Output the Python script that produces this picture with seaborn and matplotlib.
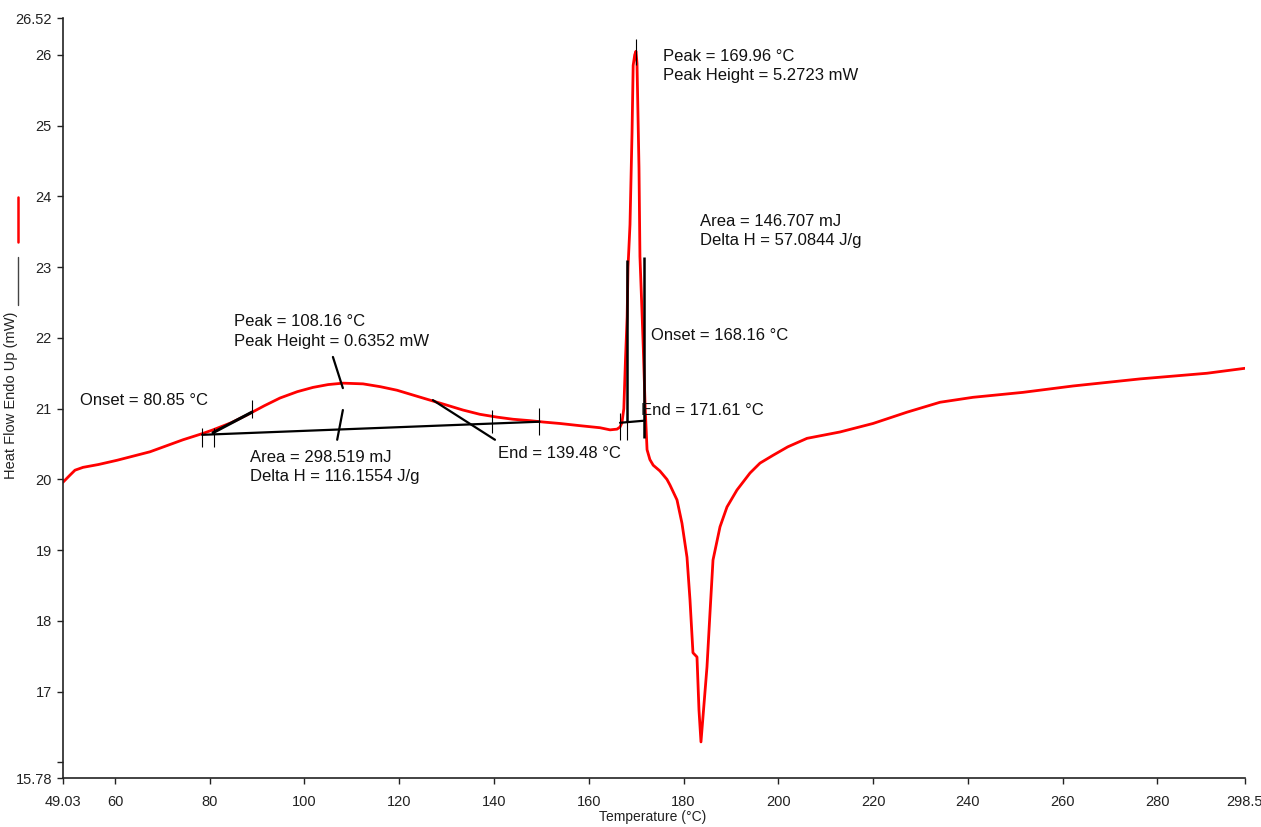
import numpy as np
import pandas as pd
import matplotlib
matplotlib.use("Agg")
import matplotlib.pyplot as plt
import seaborn as sns

# DSC heat flow curve
temp = [49.03, 50.5, 51.56, 53.25, 56.5, 60.43, 67.39, 74.36, 78.58, 80.69, 84.5, 87.86,
        91.5, 94.83, 98.5, 101.79, 105.0, 108.13, 112.35, 116.0, 119.52, 123.0, 126.49,
        130.0, 133.45, 137.0, 140.63, 144.0, 147.59, 150.5, 153.92, 158.0, 162.37, 164.5,
        165.96, 166.6, 167.0, 167.4, 167.75, 168.1, 168.28, 168.7, 169.13, 169.37, 169.7,
        169.96, 170.18, 170.6, 170.8, 171.3, 171.5, 171.9, 172.3, 172.9, 173.6, 175.0,
        176.5, 177.14, 178.62, 179.67, 180.73, 181.36, 181.99, 182.84, 183.26, 183.68,
        184.1, 184.95, 185.58, 186.22, 187.7, 189.17, 191.28, 194.03, 196.14, 198.88,
        202.0, 206.06, 213.02, 219.99, 227.17, 234.13, 241.1, 251.65, 262.2, 276.34,
        290.48, 298.5]
heat_flow = [19.96, 20.06, 20.13, 20.17, 20.21, 20.27, 20.39, 20.56, 20.65, 20.70, 20.80, 20.91,
             21.04, 21.15, 21.24, 21.30, 21.34, 21.36, 21.35, 21.31, 21.26, 21.19, 21.12,
             21.05, 20.98, 20.92, 20.88, 20.85, 20.83, 20.81, 20.79, 20.76, 20.73, 20.70,
             20.71, 20.74, 20.80, 21.0, 21.7, 22.3, 23.0, 23.6, 24.9, 25.85, 26.0,
             26.05, 25.88, 24.4, 23.15, 22.25, 21.87, 21.02, 20.42, 20.28, 20.2, 20.12,
             20.0, 19.92, 19.71, 19.38, 18.9, 18.3, 17.55, 17.49, 16.74, 16.29,
             16.64, 17.35, 18.11, 18.86, 19.33, 19.61, 19.85, 20.09, 20.23, 20.34,
             20.46, 20.58, 20.67, 20.79, 20.95, 21.09, 21.16, 21.23, 21.32, 21.42,
             21.50, 21.57]

# peak analysis marks (first peak)
p1_base_x = [78.4, 149.6]
p1_base_y = [20.63, 20.815]
p1_tick_x = [78.4, 80.85, 88.9, 139.48, 149.6]
p1_tick_lo = [20.46, 20.46, 20.87, 20.66, 20.63]
p1_tick_hi = [20.73, 20.73, 21.12, 20.98, 21.01]
p1_onset_x = [80.69, 88.9]
p1_onset_y = [20.66, 20.95]
p1_end_x = [127.1, 140.2]
p1_end_y = [21.12, 20.56]
p1_drop_x = [[106.0, 108.1], [108.1, 106.9]]
p1_drop_y = [[21.73, 21.29], [20.98, 20.56]]

# second peak
p2_base_x = [166.6, 171.8]
p2_base_y = [20.80, 20.83]
p2_tick_x = [166.6, 168.16]
p2_tick_lo = [20.56, 20.56]
p2_tick_hi = [20.94, 20.94]
p2_area_x = [168.16, 171.61]
p2_area_lo = [20.81, 20.58]
p2_area_hi = [23.1, 23.14]
p2_peak_x = 169.96
p2_peak_y = [25.85, 26.22]

xticks = [49.03, 60, 80, 100, 120, 140, 160, 180, 200, 220, 240, 260, 280, 298.5]
xticklabels = ["49.03", "60", "80", "100", "120", "140", "160", "180", "200", "220",
               "240", "260", "280", "298.5"]
yticks = [15.78, 16, 17, 18, 19, 20, 21, 22, 23, 24, 25, 26, 26.52]
yticklabels = ["15.78", "", "17", "18", "19", "20", "21", "22", "23", "24", "25", "26", "26.52"]

sns.set_style("white")
plt.rcParams['font.family'] = ['Liberation Sans', 'DejaVu Sans']

df = pd.DataFrame({'Temperature': temp, 'HeatFlow': heat_flow})

fig = plt.figure(figsize=(12.61, 8.27), dpi=100)
ax = fig.add_axes([0.04996, 0.05925, 0.93734, 0.91895])

sns.lineplot(data=df, x='Temperature', y='HeatFlow', sort=False, estimator=None,
             color='#ff0000', linewidth=2.0, ax=ax)

k = 'black'
# first peak
ax.plot(p1_base_x, p1_base_y, color=k, lw=1.6)
ax.vlines(p1_tick_x, p1_tick_lo, p1_tick_hi, color=k, lw=0.8)
ax.plot(p1_onset_x, p1_onset_y, color=k, lw=2.2)
ax.plot(p1_end_x, p1_end_y, color=k, lw=1.6)
for dx, dy in zip(p1_drop_x, p1_drop_y):
    ax.plot(dx, dy, color=k, lw=1.6)
# second peak
ax.plot(p2_base_x, p2_base_y, color=k, lw=1.6)
ax.vlines(p2_tick_x, p2_tick_lo, p2_tick_hi, color=k, lw=0.8)
ax.vlines(p2_area_x, p2_area_lo, p2_area_hi, color=k, lw=1.8)
ax.vlines(p2_peak_x, p2_peak_y[0], p2_peak_y[1], color=k, lw=0.8)

fs = 12
ls = 1.35
ax.text(175.67, 25.84, "Peak = 169.96 °C\nPeak Height = 5.2723 mW", fontsize=fs,
        va='center', ha='left', linespacing=ls, color='#111111')
ax.text(183.47, 23.51, "Area = 146.707 mJ\nDelta H = 57.0844 J/g", fontsize=fs,
        va='center', ha='left', linespacing=ls, color='#111111')
ax.text(173.13, 22.04, "Onset = 168.16 °C", fontsize=fs, va='center', ha='left', color='#111111')
ax.text(171.03, 20.98, "End = 171.61 °C", fontsize=fs, va='center', ha='left', color='#111111')
ax.text(85.12, 22.09, "Peak = 108.16 °C\nPeak Height = 0.6352 mW", fontsize=fs,
        va='center', ha='left', linespacing=ls, color='#111111')
ax.text(52.62, 21.12, "Onset = 80.85 °C", fontsize=fs, va='center', ha='left', color='#111111')
ax.text(88.5, 20.17, "Area = 298.519 mJ\nDelta H = 116.1554 J/g", fontsize=fs,
        va='center', ha='left', linespacing=ls, color='#111111')
ax.text(140.84, 20.37, "End = 139.48 °C", fontsize=fs, va='center', ha='left', color='#111111')

ax.set_xlim(49.03, 298.5)
ax.set_ylim(15.78, 26.52)
ax.set_xticks(xticks)
ax.set_xticklabels(xticklabels)
ax.set_yticks(yticks)
ax.set_yticklabels(yticklabels)
ax.tick_params(axis='both', direction='out', length=4, width=1, colors='#222222',
               labelsize=10.5, left=True, bottom=True)
ax.tick_params(axis='x', pad=8)
ax.tick_params(axis='y', pad=4)
for s in ['top', 'right']:
    ax.spines[s].set_visible(False)
for s in ['left', 'bottom']:
    ax.spines[s].set_color('#222222')
    ax.spines[s].set_linewidth(1.2)

ax.set_xlabel("Temperature (°C)", fontsize=10, color='#222222')
ax.xaxis.set_label_coords(0.499, -0.042)
ax.set_ylabel("Heat Flow Endo Up (mW)", fontsize=10.5, color='#222222')
ax.yaxis.set_label_coords(-0.038, 0.503)

# little legend strokes next to the y label
fig.add_artist(plt.Line2D([0.01427, 0.01427], [0.7074, 0.7618], color='#ff0000', lw=1.8,
                          transform=fig.transFigure))
fig.add_artist(plt.Line2D([0.01427, 0.01427], [0.6312, 0.6892], color='#444444', lw=1.0,
                          transform=fig.transFigure))

fig.savefig("out.png", dpi=100)
